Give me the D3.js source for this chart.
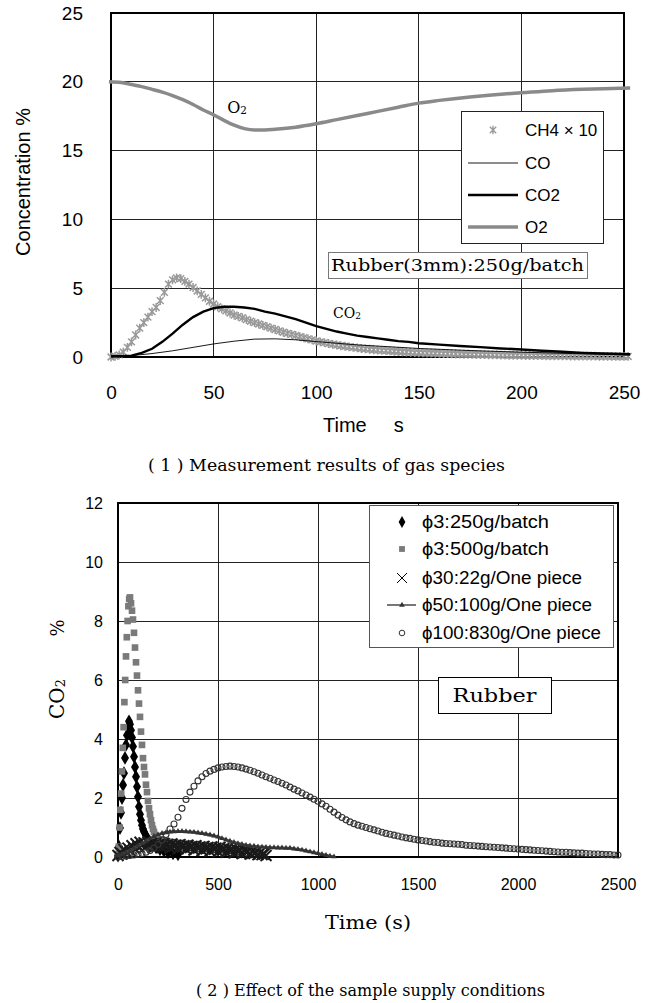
<!DOCTYPE html>
<html>
<head>
<meta charset="utf-8">
<script src="https://cdn.jsdelivr.net/npm/d3@7"></script>
<style>
body { margin: 0; background: #fff; }
</style>
</head>
<body>
<svg id="fig" width="653" height="1003"></svg>
<script>
// ---- data, panel (1): gas species, rubber 3mm, 250 g/batch
const gasTicksX = [0, 50, 100, 150, 200, 250]
const gasTicksY = [0, 5, 10, 15, 20, 25]

const o2Time = [-1, 5, 10, 15, 20, 25, 30, 35, 40, 45, 50, 55, 60, 65, 70, 75, 80, 90, 100, 110, 120, 130, 140, 150, 160, 175, 190, 200, 215, 230, 240, 253]
const o2Val = [20.0, 19.95, 19.8, 19.65, 19.45, 19.25, 19.0, 18.7, 18.35, 17.95, 17.6, 17.2, 16.85, 16.6, 16.5, 16.5, 16.55, 16.7, 16.95, 17.25, 17.55, 17.85, 18.15, 18.45, 18.65, 18.9, 19.1, 19.2, 19.35, 19.45, 19.5, 19.55]

const co2Time = [0, 5, 10, 15, 20, 25, 30, 35, 40, 45, 50, 55, 60, 65, 70, 75, 80, 85, 90, 95, 100, 105, 110, 115, 120, 125, 130, 135, 140, 145, 150, 160, 170, 180, 190, 200, 210, 220, 230, 240, 253]
const co2Val = [0.05, 0.05, 0.1, 0.3, 0.6, 1.1, 1.7, 2.35, 2.9, 3.3, 3.55, 3.65, 3.65, 3.6, 3.5, 3.3, 3.15, 2.95, 2.75, 2.5, 2.25, 2.05, 1.85, 1.7, 1.55, 1.45, 1.35, 1.25, 1.15, 1.1, 1.0, 0.9, 0.8, 0.72, 0.62, 0.55, 0.45, 0.38, 0.3, 0.25, 0.2]

const coTime = [0, 10, 20, 30, 40, 50, 60, 70, 80, 90, 100, 110, 120, 135, 150, 175, 200, 225, 253]
const coVal = [0, 0.1, 0.25, 0.45, 0.7, 0.95, 1.15, 1.3, 1.32, 1.25, 1.12, 1.0, 0.88, 0.75, 0.62, 0.47, 0.35, 0.25, 0.15]

// CH4 x10, sampled every 2 s
const ch4Time = d3.range(0, 253, 2)
const ch4Val = [0.0, 0.05, 0.15, 0.35, 0.7, 1.1, 1.6, 2.1, 2.5, 2.9, 3.3, 3.6, 4.1, 4.7, 5.3, 5.6, 5.75, 5.7, 5.5, 5.3,
  5.05, 4.8, 4.55, 4.3, 4.05, 3.85, 3.65, 3.5, 3.35, 3.2, 3.05, 2.95, 2.85, 2.72, 2.6, 2.5, 2.4, 2.3, 2.2, 2.1,
  2.0, 1.9, 1.8, 1.72, 1.64, 1.56, 1.48, 1.4, 1.32, 1.24, 1.16, 1.1, 1.04, 0.98, 0.92, 0.87, 0.82, 0.78, 0.74, 0.7,
  0.66, 0.62, 0.59, 0.56, 0.53, 0.5, 0.48, 0.46, 0.44, 0.42, 0.4, 0.38, 0.36, 0.34, 0.32, 0.31, 0.3, 0.29, 0.28, 0.27,
  0.26, 0.25, 0.24, 0.23, 0.22, 0.21, 0.2, 0.2, 0.19, 0.18, 0.17, 0.17, 0.16, 0.15, 0.15, 0.14, 0.14, 0.13, 0.13, 0.12,
  0.12, 0.11, 0.11, 0.1, 0.1, 0.1, 0.09, 0.09, 0.09, 0.08, 0.08, 0.08, 0.07, 0.07, 0.07, 0.06, 0.06, 0.06, 0.06, 0.05,
  0.05, 0.05, 0.05, 0.04, 0.04, 0.04, 0.04]

// ---- data, panel (2): effect of sample supply conditions
const supTicksX = [0, 500, 1000, 1500, 2000, 2500]
const supTicksY = [0, 2, 4, 6, 8, 10, 12]
const supNames = ["ϕ3:250g/batch", "ϕ3:500g/batch", "ϕ30:22g/One piece", "ϕ50:100g/One piece", "ϕ100:830g/One piece"]

const b250Time = [0, 5, 10, 15, 20, 25, 30, 35, 40, 45, 50, 55, 60, 65, 70, 75, 80, 85, 90, 95, 100, 105, 110, 115, 120, 125, 130, 140, 150, 160, 175, 190, 210, 230, 250, 275, 300]
const b250Val = [0.05, 0.35, 0.98, 1.5, 2.0, 2.44, 2.84, 3.36, 3.8, 4.13, 4.4, 4.6, 4.5, 4.3, 4.05, 3.75, 3.4, 3.05, 2.72, 2.38, 2.04, 1.7, 1.45, 1.25, 1.08, 0.95, 0.86, 0.72, 0.6, 0.5, 0.4, 0.33, 0.26, 0.2, 0.16, 0.12, 0.09]

const b500Time = [0, 4, 8, 12, 16, 20, 24, 28, 32, 36, 40, 44, 48, 52, 56, 60, 65, 70, 75, 80, 85, 90, 95, 100, 105, 110, 115, 120, 125, 130, 135, 140, 145, 150, 155, 160, 165, 170, 175, 180, 190, 200, 210, 225, 240, 260, 280, 300, 330, 360, 390, 420, 450, 480, 510, 540, 570, 600]
const b500Val = [0.1, 0.35, 1.0, 1.6, 2.15, 2.9, 3.7, 4.4, 5.25, 6.0, 6.8, 7.45, 8.0, 8.5, 8.75, 8.8, 8.6, 8.35, 8.05, 7.6, 7.1, 6.6, 6.15, 5.65, 5.2, 4.75, 4.25, 3.8, 3.35, 3.05, 2.8, 2.45, 2.2, 1.9, 1.65, 1.45, 1.25, 1.08, 0.95, 0.85, 0.7, 0.6, 0.58, 0.56, 0.54, 0.52, 0.5, 0.48, 0.45, 0.43, 0.41, 0.39, 0.37, 0.35, 0.32, 0.29, 0.25, 0.2]

// phi30 one piece, every 10 s (noisy)
const p30Time = d3.range(0, 741, 10)
const p30Val = [0.05, 0.15, 0.1, 0.25, 0.18, 0.3, 0.22, 0.38, 0.3, 0.45, 0.35, 0.5, 0.4, 0.48, 0.36, 0.5, 0.42, 0.46, 0.34, 0.48,
  0.4, 0.44, 0.32, 0.46, 0.38, 0.42, 0.3, 0.44, 0.36, 0.4, 0.28, 0.42, 0.34, 0.38, 0.26, 0.4, 0.32, 0.36, 0.24, 0.38,
  0.3, 0.34, 0.22, 0.36, 0.28, 0.32, 0.2, 0.34, 0.26, 0.3, 0.18, 0.32, 0.24, 0.28, 0.16, 0.3, 0.22, 0.26, 0.14, 0.28,
  0.2, 0.24, 0.12, 0.24, 0.16, 0.2, 0.1, 0.2, 0.12, 0.16, 0.08, 0.14, 0.08, 0.1, 0.05]

// phi50 one piece, every 20 s
const p50Time = d3.range(0, 1081, 20)
const p50Val = [0.05, 0.1, 0.15, 0.22, 0.3, 0.38, 0.46, 0.54, 0.62, 0.7, 0.76, 0.8, 0.83, 0.85, 0.86, 0.87, 0.87, 0.86, 0.85, 0.84,
  0.82, 0.8, 0.78, 0.75, 0.72, 0.68, 0.63, 0.58, 0.54, 0.5, 0.46, 0.43, 0.4, 0.38, 0.37, 0.35, 0.34, 0.33, 0.32, 0.32,
  0.31, 0.31, 0.3, 0.3, 0.28, 0.26, 0.24, 0.21, 0.18, 0.15, 0.12, 0.09, 0.06, 0.03, 0.01]

// phi100 one piece, every 20 s
const p100Time = d3.range(0, 2501, 20)
const p100Val = [0.0, 0.02, 0.03, 0.05, 0.07, 0.09, 0.12, 0.16, 0.22, 0.3, 0.42, 0.58, 0.76, 0.95, 1.12, 1.35, 1.65, 1.95, 2.2, 2.4,
  2.58, 2.72, 2.83, 2.91, 2.97, 3.02, 3.05, 3.07, 3.08, 3.07, 3.05, 3.02, 2.98, 2.94, 2.89, 2.84, 2.78, 2.72, 2.67, 2.61,
  2.56, 2.5, 2.44, 2.37, 2.3, 2.24, 2.17, 2.1, 2.03, 1.96, 1.89, 1.8, 1.72, 1.62, 1.52, 1.42, 1.34, 1.26, 1.19, 1.13,
  1.08, 1.04, 1.0, 0.96, 0.92, 0.88, 0.84, 0.8, 0.77, 0.74, 0.71, 0.68, 0.65, 0.63, 0.6, 0.58, 0.56, 0.54, 0.52, 0.5,
  0.49, 0.47, 0.46, 0.45, 0.44, 0.43, 0.42, 0.4, 0.39, 0.38, 0.37, 0.36, 0.35, 0.34, 0.33, 0.32, 0.31, 0.3, 0.29, 0.28,
  0.27, 0.26, 0.25, 0.24, 0.23, 0.22, 0.21, 0.2, 0.19, 0.18, 0.17, 0.16, 0.16, 0.15, 0.14, 0.13, 0.13, 0.12, 0.11, 0.1,
  0.1, 0.09, 0.08, 0.08, 0.07, 0.07]

const sans = "Liberation Sans, Arial, sans-serif"
const serif = "DejaVu Serif, Liberation Serif, serif"

const svg = d3.select("#fig")

// marker paths
const starPath = s => `M${-s},${-s}L${s},${s}M${-s},${s}L${s},${-s}M0,${-s * 1.3}L0,${s * 1.3}`
const crossPath = s => `M${-s},${-s}L${s},${s}M${-s},${s}L${s},${-s}`
const diamond = d3.symbol(d3.symbolDiamond, 55)
const square = d3.symbol(d3.symbolSquare, 44)
const triangle = d3.symbol(d3.symbolTriangle, 14)

function frame(g, x, y, xt, yt, gridColor) {
  const [x0, x9] = x.range(), [y0, y9] = y.range()
  g.append("g").selectAll("line").data(xt.slice(1, -1)).join("line")
    .attr("x1", d => x(d)).attr("x2", d => x(d)).attr("y1", y0).attr("y2", y9)
    .attr("stroke", gridColor).attr("shape-rendering", "crispEdges")
  g.append("g").selectAll("line").data(yt.slice(1, -1)).join("line")
    .attr("y1", d => y(d)).attr("y2", d => y(d)).attr("x1", x0).attr("x2", x9)
    .attr("stroke", gridColor).attr("shape-rendering", "crispEdges")
  g.append("rect").attr("x", x0).attr("y", y9).attr("width", x9 - x0).attr("height", y0 - y9)
    .attr("fill", "none").attr("stroke", "#000").attr("stroke-width", 1.5).attr("shape-rendering", "crispEdges")
}

function axes(g, x, y, xt, yt, fs, padX, padY) {
  g.append("g").attr("transform", `translate(${x.range()[0]},0)`)
    .call(d3.axisLeft(y).tickValues(yt).tickSize(0).tickPadding(padY).tickFormat(d3.format("d")))
    .call(a => a.select(".domain").remove())
    .selectAll("text").attr("font-family", sans).attr("font-size", fs).attr("fill", "#000")
  g.append("g").attr("transform", `translate(0,${y.range()[0]})`)
    .call(d3.axisBottom(x).tickValues(xt).tickSize(0).tickPadding(padX).tickFormat(d3.format("d")))
    .call(a => a.select(".domain").remove())
    .selectAll("text").attr("font-family", sans).attr("font-size", fs).attr("fill", "#000")
}

// ================= panel (1)
const x1 = d3.scaleLinear().domain([0, 250]).range([111, 624])
const y1 = d3.scaleLinear().domain([0, 25]).range([357, 13])
const g1 = svg.append("g")
frame(g1, x1, y1, gasTicksX, gasTicksY, "#222")
axes(g1, x1, y1, gasTicksX, gasTicksY, 19, 29, 28)

const line1 = d3.line().x(d => x1(d[0])).y(d => y1(d[1]))

g1.append("g").selectAll("path").data(d3.zip(ch4Time, ch4Val)).join("path")
  .attr("transform", d => `translate(${x1(d[0])},${y1(d[1])})`)
  .attr("d", starPath(3.4)).attr("stroke", "#999").attr("stroke-width", 1.5).attr("fill", "none")

g1.append("path").datum(d3.zip(coTime, coVal)).attr("d", line1)
  .attr("fill", "none").attr("stroke", "#000").attr("stroke-width", 0.9)
g1.append("path").datum(d3.zip(co2Time, co2Val)).attr("d", line1)
  .attr("fill", "none").attr("stroke", "#000").attr("stroke-width", 2.4)
g1.append("path").datum(d3.zip(o2Time, o2Val)).attr("d", line1.curve(d3.curveMonotoneX))
  .attr("fill", "none").attr("stroke", "#8a8a8a").attr("stroke-width", 3.5)

// axis titles
g1.append("text").attr("transform", "translate(30,182) rotate(-90)").attr("text-anchor", "middle")
  .attr("font-family", sans).attr("font-size", 20).text("Concentration %")
g1.append("text").attr("x", 323).attr("y", 432).attr("font-family", sans).attr("font-size", 20)
  .call(t => { t.append("tspan").text("Time"); t.append("tspan").attr("dx", 27).text("s") })

// curve labels
function chem(g, x, y, base, fs) {
  const t = g.append("text").attr("x", x).attr("y", y).attr("text-anchor", "middle")
    .attr("font-family", serif).attr("font-size", fs)
  t.append("tspan").text(base)
  t.append("tspan").attr("font-size", fs * 0.65).attr("dy", fs * 0.05).text("2")
}
chem(g1, 237, 113, "O", 16)
chem(g1, 347, 318, "CO", 14)

// legend
const lg1 = g1.append("g")
lg1.append("rect").attr("x", 461).attr("y", 111).attr("width", 142).attr("height", 132)
  .attr("fill", "#fff").attr("stroke", "#222").attr("shape-rendering", "crispEdges")
const leg1 = [
  { name: "CH4 × 10", y: 130 },
  { name: "CO", y: 163, w: 0.9, c: "#000" },
  { name: "CO2", y: 195, w: 2.4, c: "#000" },
  { name: "O2", y: 227, w: 3.5, c: "#8a8a8a" }
]
leg1.forEach((d, i) => {
  if (i === 0) {
    lg1.append("path").attr("transform", `translate(493,${d.y})`).attr("d", starPath(3.2))
      .attr("stroke", "#9a9a9a").attr("stroke-width", 1.4)
  } else {
    lg1.append("line").attr("x1", 468).attr("x2", 518).attr("y1", d.y).attr("y2", d.y)
      .attr("stroke", d.c).attr("stroke-width", d.w)
  }
  lg1.append("text").attr("x", 525).attr("y", d.y).attr("dy", "0.36em")
    .attr("font-family", sans).attr("font-size", 17).text(d.name)
})

g1.append("rect").attr("x", 328).attr("y", 252).attr("width", 259).attr("height", 26)
  .attr("fill", "#fff").attr("stroke", "#777").attr("shape-rendering", "crispEdges")
g1.append("text").attr("x", 331).attr("y", 271).attr("font-family", serif).attr("font-size", 17)
  .attr("textLength", 253).attr("lengthAdjust", "spacingAndGlyphs").text("Rubber(3mm):250g/batch")

svg.append("text").attr("x", 148).attr("y", 471).attr("font-family", serif).attr("font-size", 16)
  .attr("textLength", 357).attr("lengthAdjust", "spacingAndGlyphs").text("( 1 )  Measurement results of gas species")

// ================= panel (2)
const x2 = d3.scaleLinear().domain([0, 2500]).range([118, 618])
const y2 = d3.scaleLinear().domain([0, 12]).range([857, 503])
const g2 = svg.append("g")
frame(g2, x2, y2, supTicksX, supTicksY, "#222")
axes(g2, x2, y2, supTicksX, supTicksY, 16, 22, 15)

const series2 = g2.append("g")
series2.append("g").selectAll("path").data(d3.zip(b250Time, b250Val)).join("path")
  .attr("transform", d => `translate(${x2(d[0])},${y2(d[1])})`).attr("d", diamond).attr("fill", "#000")
series2.append("g").selectAll("path").data(d3.zip(b500Time, b500Val)).join("path")
  .attr("transform", d => `translate(${x2(d[0])},${y2(d[1])})`).attr("d", square).attr("fill", "#7a7a7a")
series2.append("g").selectAll("path").data(d3.zip(p30Time, p30Val)).join("path")
  .attr("transform", d => `translate(${x2(d[0])},${y2(d[1])})`).attr("d", crossPath(5.5))
  .attr("stroke", "#1a1a1a").attr("stroke-width", 2).attr("fill", "none")
const line2 = d3.line().x(d => x2(d[0])).y(d => y2(d[1]))
series2.append("path").datum(d3.zip(p50Time, p50Val)).attr("d", line2)
  .attr("fill", "none").attr("stroke", "#555").attr("stroke-width", 2.8)
series2.append("g").selectAll("path").data(d3.zip(p50Time, p50Val)).join("path")
  .attr("transform", d => `translate(${x2(d[0])},${y2(d[1])})`).attr("d", triangle).attr("fill", "#333")
series2.append("g").selectAll("circle").data(d3.zip(p100Time, p100Val)).join("circle")
  .attr("cx", d => x2(d[0])).attr("cy", d => y2(d[1])).attr("r", 3)
  .attr("fill", "none").attr("stroke", "#333").attr("stroke-width", 1.1)

// legend
const lg2 = g2.append("g")
lg2.append("rect").attr("x", 369).attr("y", 505).attr("width", 244).attr("height", 142)
  .attr("fill", "#fff").attr("stroke", "#555").attr("shape-rendering", "crispEdges")
const legY2 = [522, 549, 578, 605, 633]
const legW2 = [127, 127, 160, 170, 179]
supNames.forEach((name, i) => {
  const y = legY2[i]
  if (i === 0) lg2.append("path").attr("transform", `translate(402,${y})`).attr("d", d3.symbol(d3.symbolDiamond, 40)).attr("fill", "#000")
  if (i === 1) lg2.append("path").attr("transform", `translate(402,${y})`).attr("d", d3.symbol(d3.symbolSquare, 34)).attr("fill", "#7a7a7a")
  if (i === 2) lg2.append("path").attr("transform", `translate(402,${y})`).attr("d", crossPath(5))
    .attr("stroke", "#000").attr("stroke-width", 1)
  if (i === 3) {
    lg2.append("line").attr("x1", 387).attr("x2", 416).attr("y1", y).attr("y2", y).attr("stroke", "#4a4a4a").attr("stroke-width", 1.5)
    lg2.append("path").attr("transform", `translate(402,${y})`).attr("d", triangle).attr("fill", "#333")
  }
  if (i === 4) lg2.append("circle").attr("cx", 402).attr("cy", y).attr("r", 2.8)
    .attr("fill", "none").attr("stroke", "#333")
  lg2.append("text").attr("x", 422).attr("y", y).attr("dy", "0.36em")
    .attr("font-family", sans).attr("font-size", 18).attr("textLength", legW2[i])
    .attr("lengthAdjust", "spacingAndGlyphs").text(name)
})

g2.append("rect").attr("x", 438).attr("y", 677).attr("width", 113).attr("height", 36)
  .attr("fill", "#fff").attr("stroke", "#000").attr("shape-rendering", "crispEdges")
g2.append("text").attr("x", 494.5).attr("y", 702).attr("text-anchor", "middle")
  .attr("font-family", serif).attr("font-size", 19).attr("textLength", 84).attr("lengthAdjust", "spacingAndGlyphs").text("Rubber")

// y title "CO2   %"
const yt2 = g2.append("text").attr("transform", "translate(64,699) rotate(-90)").attr("text-anchor", "middle")
  .attr("font-family", serif).attr("font-size", 20)
yt2.append("tspan").text("CO")
yt2.append("tspan").attr("font-size", 13).attr("dy", 1).text("2")
g2.append("text").attr("transform", "translate(64,628) rotate(-90)").attr("text-anchor", "middle")
  .attr("font-family", serif).attr("font-size", 18).text("%")

g2.append("text").attr("x", 368).attr("y", 929).attr("text-anchor", "middle")
  .attr("font-family", serif).attr("font-size", 19).attr("textLength", 86).attr("lengthAdjust", "spacingAndGlyphs").text("Time (s)")

svg.append("text").attr("x", 196).attr("y", 996).attr("font-family", serif).attr("font-size", 16)
  .attr("textLength", 349).attr("lengthAdjust", "spacingAndGlyphs").text("( 2 )  Effect of the sample supply conditions")
</script>
</body>
</html>
